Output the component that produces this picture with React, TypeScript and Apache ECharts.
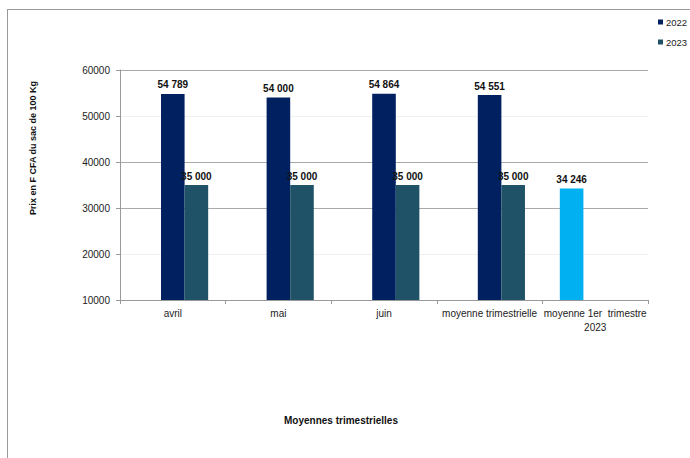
import React, { useEffect, useRef } from "react";
import * as echarts from "echarts";

const categories = ["avril", "mai", "juin", "moyenne trimestrielle", "moyenne 1er  trimestre\n2023"];
const values2022 = [54789, 54000, 54864, 54551, null];
const values2023 = [35000, 35000, 35000, 35000, null];
const valuesT1 = [null, null, null, null, 34246];
const yTicks = [10000, 20000, 30000, 40000, 50000, 60000];

const fmt = (v: number) => String(v).replace(/\B(?=(\d{3})+(?!\d))/g, " ");
const FONT = "'Liberation Sans', Arial, sans-serif";

export default function App() {
  const ref = useRef<HTMLDivElement>(null);
  useEffect(() => {
    const chart = echarts.init(ref.current!, null, { renderer: "svg" });
    const label = {
      show: true,
      position: "top",
      distance: 4,
      fontFamily: FONT,
      fontSize: 10,
      fontWeight: "bold",
      color: "#111",
      formatter: (p: any) => fmt(p.value),
    };
    chart.setOption({
      animation: false,
      backgroundColor: "#fff",
      textStyle: { fontFamily: FONT },
      grid: { left: 120, right: 42, top: 70, bottom: 158 },
      legend: {
        data: ["2022", "2023"],
        orient: "vertical",
        left: 658,
        top: 17,
        padding: 0,
        itemWidth: 5,
        itemHeight: 5,
        itemGap: 10,
        icon: "rect",
        textStyle: { fontSize: 9.5, color: "#222", fontFamily: FONT, padding: [0, 0, 0, -2] },
      },
      xAxis: {
        type: "category",
        data: categories,
        axisLine: { lineStyle: { color: "#999" } },
        axisTick: { show: true, length: 4, lineStyle: { color: "#999" } },
        axisLabel: { fontSize: 10, color: "#222", margin: 6, lineHeight: 14, interval: 0 },
      },
      yAxis: {
        type: "value",
        min: yTicks[0],
        max: yTicks[yTicks.length - 1],
        interval: 10000,
        axisLine: { show: true, lineStyle: { color: "#999" } },
        axisTick: { show: true, length: 4, lineStyle: { color: "#999" } },
        axisLabel: { fontSize: 10, color: "#222", margin: 10, formatter: (v: number) => String(v) },
        splitLine: {
          lineStyle: {
            color: ["#999", "#f0f0f0", "#aaa", "#aaa", "#f0f0f0", "#aaa"],
          },
        },
      },
      series: [
        {
          name: "moyenne 1er trimestre 2023",
          type: "bar",
          data: valuesT1,
          barGap: "0%",
          barCategoryGap: "33%",
          itemStyle: { color: "#00B0F0" },
          label,
        },
        {
          name: "2022",
          type: "bar",
          data: values2022,
          barGap: "0%",
          barCategoryGap: "33%",
          itemStyle: { color: "#002060" },
          label,
        },
        {
          name: "2023",
          type: "bar",
          data: values2023,
          barGap: "0%",
          barCategoryGap: "33%",
          itemStyle: { color: "#1F5266" },
          label,
        },
      ],
      graphic: [
        { type: "line", shape: { x1: 7, y1: 9.5, x2: 690, y2: 9.5 }, style: { stroke: "#999", lineWidth: 1 } },
        { type: "line", shape: { x1: 7.5, y1: 9, x2: 7.5, y2: 458 }, style: { stroke: "#999", lineWidth: 1 } },
        {
          type: "text",
          x: 33,
          y: 148,
          rotation: Math.PI / 2,
          style: {
            text: "Prix en F CFA du sac de 100 Kg",
            fontFamily: FONT,
            fontSize: 9,
            fontWeight: "bold",
            fill: "#111",
            align: "center",
            verticalAlign: "middle",
          },
        },
        {
          type: "text",
          x: 341,
          y: 420,
          style: {
            text: "Moyennes trimestrielles",
            fontFamily: FONT,
            fontSize: 10,
            fontWeight: "bold",
            fill: "#111",
            align: "center",
            verticalAlign: "middle",
          },
        },
      ],
    });
    return () => chart.dispose();
  }, []);
  return <div ref={ref} style={{ position: "fixed", left: 0, top: 0, width: 690, height: 458 }} />;
}
